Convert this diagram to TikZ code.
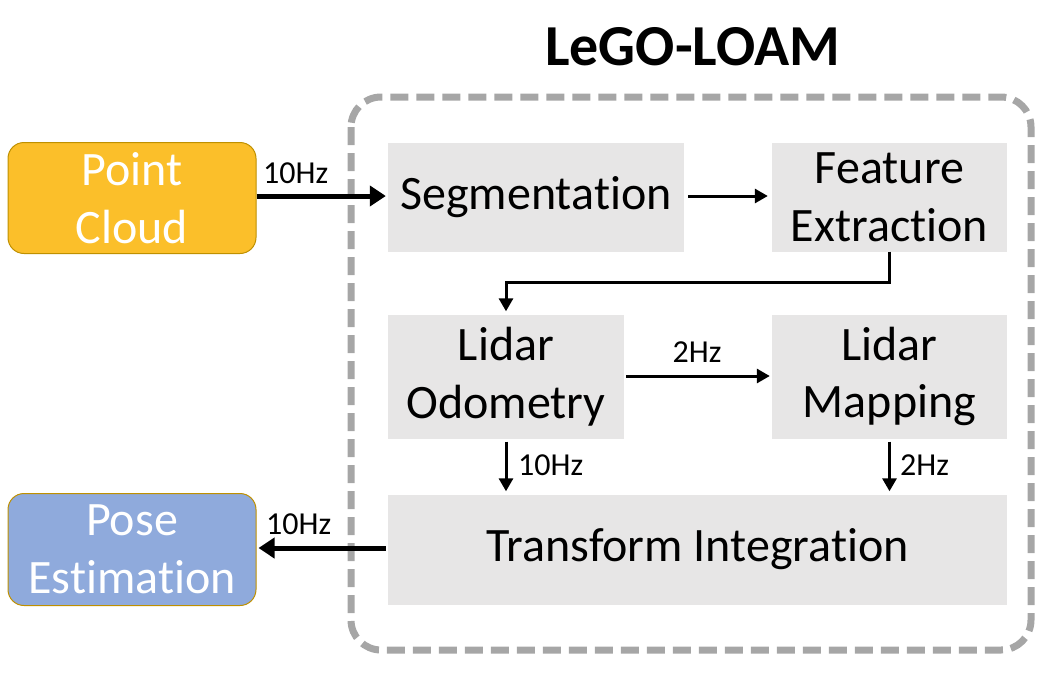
\documentclass[tikz,border=0pt]{standalone}
\usepackage{fontspec}
\setmainfont{Carlito}[Ligatures=NoCommon]
\usetikzlibrary{arrows.meta}
\definecolor{pcorange}{HTML}{FBBF2A}
\definecolor{poseblue}{HTML}{8FAADC}
\definecolor{boxgray}{HTML}{E7E6E6}
\definecolor{dashgray}{HTML}{A6A6A6}
\definecolor{goldline}{HTML}{BF9000}
\tikzset{
  procbox/.style={fill=boxgray, inner sep=0pt, align=center, font=\fontsize{48}{57.6}\selectfont},
  iobox/.style={draw=goldline, line width=1pt, rounded corners=16pt, inner sep=0pt, align=center, text=white, font=\fontsize{48}{57.6}\selectfont},
  hzlabel/.style={inner sep=0pt, font=\fontsize{32}{38}\selectfont},
  thickarrow/.style={line width=5pt, -{Triangle[length=16pt,width=20pt]}},
  thinarrow/.style={line width=3pt, -{Triangle[length=13pt,width=14pt]}},
}
\begin{document}
\begin{tikzpicture}[x=1pt,y=-1pt]
\useasboundingbox (0,0) rectangle (1063,683);
% title
\node[font=\fontsize{58}{68}\selectfont\bfseries, inner sep=0pt] (title) at (693,47) {LeGO-LOAM};
% dashed frame
\draw[dashgray, line width=7pt, dash pattern=on 18pt off 8pt, rounded corners=30pt] (351,97) rectangle (1031,650);
% io boxes
\node[iobox, fill=pcorange, minimum width=248pt, minimum height=111pt] (pc) at (132,198) {Point\\Cloud};
\node[iobox, fill=poseblue, minimum width=248pt, minimum height=112pt] (pose) at (132,549.5) {Pose\\Estimation};
% process boxes
\node[procbox, minimum width=296pt, minimum height=109pt] (seg) at (536,197) {Segmentation};
\node[procbox, minimum width=235pt, minimum height=109pt] (fe) at (889.5,197) {Feature\\Extraction};
\node[procbox, minimum width=236pt, minimum height=124pt] (lo) at (506,376.5) {Lidar\\Odometry};
\node[procbox, minimum width=235pt, minimum height=124pt] (lm) at (889.5,376.5) {Lidar\\Mapping};
\node[procbox, minimum width=619pt, minimum height=110pt] (ti) at (697.5,549.5) {Transform Integration};
% connectors
\draw[thickarrow, shorten >=2pt] (pc.east |- 0,196) -- (seg.west |- 0,196);
\draw[thinarrow, shorten <=4pt, shorten >=4pt] (seg.east |- 0,196) -- (fe.west |- 0,196);
\coordinate (bend) at (889.5,282);
\draw[thinarrow, shorten >=3pt] (fe.south) -- (bend) -| (lo.north);
\draw[thinarrow, shorten <=2pt, shorten >=2pt] (lo.east |- 0,376) -- (lm.west |- 0,376);
\draw[thinarrow, shorten <=3pt, shorten >=3pt] (lo.south) -- (lo.south |- ti.north);
\draw[thinarrow, shorten <=3pt, shorten >=3pt] (lm.south) -- (lm.south |- ti.north);
\draw[thickarrow, shorten <=2pt, shorten >=2pt] (ti.west |- 0,548) -- (pose.east |- 0,548);
% labels
\node[hzlabel, anchor=west] (l1) at (263,173) {10Hz};
\node[hzlabel] (l2) at (697,352) {2Hz};
\node[hzlabel, anchor=west] (l3) at (518,465) {10Hz};
\node[hzlabel, anchor=west] (l4) at (900,465) {2Hz};
\node[hzlabel, anchor=west] (l5) at (266,524) {10Hz};
\end{tikzpicture}
\end{document}
